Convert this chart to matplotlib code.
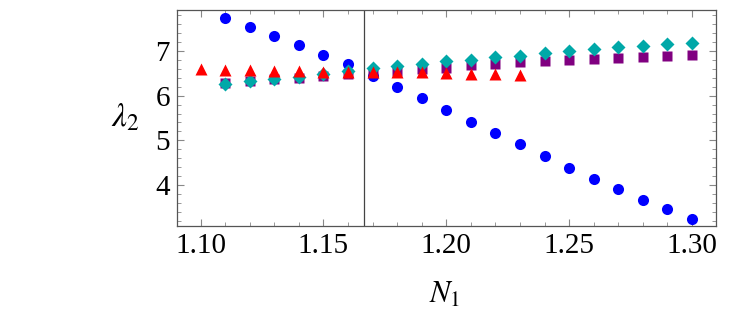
import numpy as np
import matplotlib.pyplot as plt
from matplotlib.ticker import MultipleLocator

plt.rcParams['font.family'] = ['Liberation Serif', 'DejaVu Serif']
plt.rcParams['mathtext.fontset'] = 'stix'

# blue circles (branch falling off)
n_blue = [1.11, 1.12, 1.13, 1.14, 1.15, 1.16, 1.17, 1.18, 1.19, 1.20,
          1.21, 1.22, 1.23, 1.24, 1.25, 1.26, 1.27, 1.28, 1.29, 1.30]
lam_blue = [7.74, 7.53, 7.34, 7.13, 6.91, 6.72, 6.43, 6.19, 5.95, 5.68,
            5.41, 5.16, 4.91, 4.65, 4.38, 4.14, 3.90, 3.67, 3.45, 3.24]

# red triangles
n_red = [1.10, 1.11, 1.12, 1.13, 1.14, 1.15, 1.16, 1.17, 1.18, 1.19,
         1.20, 1.21, 1.22, 1.23]
lam_red = [6.59, 6.58, 6.57, 6.55, 6.55, 6.54, 6.54, 6.54, 6.52, 6.52,
           6.51, 6.49, 6.49, 6.47]

# purple squares
n_sq = [1.11, 1.12, 1.13, 1.14, 1.15, 1.16, 1.17, 1.18, 1.19, 1.20,
        1.21, 1.22, 1.23, 1.24, 1.25, 1.26, 1.27, 1.28, 1.29, 1.30]
lam_sq = [6.28, 6.32, 6.37, 6.40, 6.45, 6.48, 6.53, 6.56, 6.60, 6.63,
          6.68, 6.72, 6.75, 6.78, 6.81, 6.83, 6.85, 6.87, 6.90, 6.92]

# cyan diamonds
n_dia = n_sq
lam_dia = [6.26, 6.32, 6.37, 6.42, 6.48, 6.55, 6.61, 6.66, 6.72, 6.77,
           6.81, 6.87, 6.90, 6.95, 6.99, 7.04, 7.08, 7.12, 7.15, 7.19]

n_crit = 7 / 6

fig = plt.figure(figsize=(7.48, 3.20), dpi=100)
ax = fig.add_axes([0.2366, 0.2938, 0.7206, 0.675])

ax.axvline(n_crit, color='#444444', lw=0.9, zorder=1)

ax.plot(n_blue, lam_blue, 'o', color='#0000ff', ms=8, mec='none', zorder=2)
ax.plot(n_sq, lam_sq, 's', color='#800080', ms=7, mec='none', zorder=3)
ax.plot(n_dia, lam_dia, 'D', color='#00a8a8', ms=7.5, mec='none', zorder=4)
ax.plot(n_red, lam_red, '^', color='#ff0000', ms=8.5, mec='none', zorder=5)

ax.set_xlim(1.0904, 1.3098)
ax.set_ylim(3.08, 7.92)

ax.xaxis.set_major_locator(MultipleLocator(0.05))
ax.xaxis.set_minor_locator(MultipleLocator(0.01))
ax.yaxis.set_major_locator(MultipleLocator(1))
ax.yaxis.set_minor_locator(MultipleLocator(0.2))
ax.xaxis.set_major_formatter(plt.FuncFormatter(lambda v, p: f'{v:.2f}'))

ax.tick_params(which='both', direction='in', top=True, right=True,
               color='#888888', labelsize=21, pad=5)
ax.tick_params(which='major', length=5, width=0.8)
ax.tick_params(which='minor', length=3, width=0.6)
for s in ax.spines.values():
    s.set_color('#555555')
    s.set_linewidth(0.9)

fig.text(125 / 748, 1 - 118 / 320, r'$\lambda_2$', fontsize=24,
         ha='center', va='center')
fig.text(445 / 748, 1 - 295 / 320, r'$N_1$', fontsize=22,
         ha='center', va='center')

fig.savefig('out.png', dpi=100)
